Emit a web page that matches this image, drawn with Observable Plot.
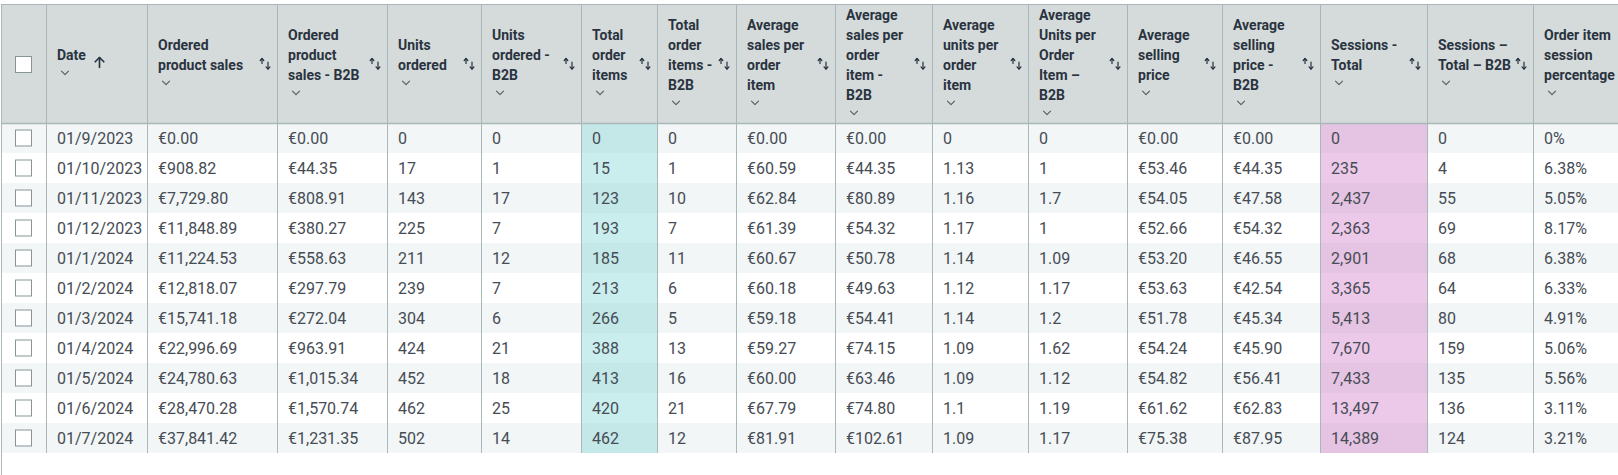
<!DOCTYPE html>
<html><head><meta charset="utf-8">
<script src="https://cdn.jsdelivr.net/npm/d3@7"></script>
<script src="https://cdn.jsdelivr.net/npm/@observablehq/plot@0.6"></script>
<style>html,body{margin:0;padding:0;background:#fff;} svg{display:block}</style>
</head><body><div id="chart"></div><script>
// ---------- data ----------
const dates = ["01/9/2023","01/10/2023","01/11/2023","01/12/2023","01/1/2024","01/2/2024","01/3/2024","01/4/2024","01/5/2024","01/6/2024","01/7/2024"];
const orderedProductSales = [0, 908.82, 7729.80, 11848.89, 11224.53, 12818.07, 15741.18, 22996.69, 24780.63, 28470.28, 37841.42];
const orderedProductSalesB2B = [0, 44.35, 808.91, 380.27, 558.63, 297.79, 272.04, 963.91, 1015.34, 1570.74, 1231.35];
const unitsOrdered = [0, 17, 143, 225, 211, 239, 304, 424, 452, 462, 502];
const unitsOrderedB2B = [0, 1, 17, 7, 12, 7, 6, 21, 18, 25, 14];
const totalOrderItems = [0, 15, 123, 193, 185, 213, 266, 388, 413, 420, 462];
const totalOrderItemsB2B = [0, 1, 10, 7, 11, 6, 5, 13, 16, 21, 12];
const avgSalesPerItem = [0, 60.59, 62.84, 61.39, 60.67, 60.18, 59.18, 59.27, 60.00, 67.79, 81.91];
const avgSalesPerItemB2B = [0, 44.35, 80.89, 54.32, 50.78, 49.63, 54.41, 74.15, 63.46, 74.80, 102.61];
const avgUnitsPerItem = [0, 1.13, 1.16, 1.17, 1.14, 1.12, 1.14, 1.09, 1.09, 1.1, 1.09];
const avgUnitsPerItemB2B = [0, 1, 1.7, 1, 1.09, 1.17, 1.2, 1.62, 1.12, 1.19, 1.17];
const avgSellingPrice = [0, 53.46, 54.05, 52.66, 53.20, 53.63, 51.78, 54.24, 54.82, 61.62, 75.38];
const avgSellingPriceB2B = [0, 44.35, 47.58, 54.32, 46.55, 42.54, 45.34, 45.90, 56.41, 62.83, 87.95];
const sessionsTotal = [0, 235, 2437, 2363, 2901, 3365, 5413, 7670, 7433, 13497, 14389];
const sessionsTotalB2B = [0, 4, 55, 69, 68, 64, 80, 159, 135, 136, 124];
const orderItemSessionPct = [0, 6.38, 5.05, 8.17, 6.38, 6.33, 4.91, 5.06, 5.56, 3.11, 3.21];

const headers = [
  [], ["Date"], ["Ordered","product sales"], ["Ordered","product","sales - B2B"],
  ["Units","ordered"], ["Units","ordered -","B2B"], ["Total","order","items"],
  ["Total","order","items -","B2B"], ["Average","sales per","order","item"],
  ["Average","sales per","order","item -","B2B"], ["Average","units per","order","item"],
  ["Average","Units per","Order","Item –","B2B"], ["Average","selling","price"],
  ["Average","selling","price -","B2B"], ["Sessions -","Total"], ["Sessions –","Total – B2B"],
  ["Order item","session","percentage"]
];

// ---------- formatting ----------
const euro = v => "€" + d3.format(",.2f")(v);
const int = v => d3.format(",")(v);
const plain = v => String(v);
const pct = v => v + "%";
const series = [orderedProductSales, orderedProductSalesB2B, unitsOrdered, unitsOrderedB2B,
  totalOrderItems, totalOrderItemsB2B, avgSalesPerItem, avgSalesPerItemB2B, avgUnitsPerItem,
  avgUnitsPerItemB2B, avgSellingPrice, avgSellingPriceB2B, sessionsTotal, sessionsTotalB2B, orderItemSessionPct];
const formats = [euro, euro, int, int, int, int, euro, euro, plain, plain, euro, euro, int, int, pct];

// ---------- layout ----------
const W = 1618, H = 475;
const edges = [1, 46, 147, 277, 387, 481, 581, 657, 736, 835, 932, 1028, 1127, 1222, 1320, 1427, 1533, 1618];
const headTop = 4, headBottom = 123, rowH = 30, pad = 10.5, headMid = 63.5, lineH = 20, chevGap = 17.7;
const tableBottom = headBottom + rowH * dates.length;
const rowMid = i => headBottom + rowH * i + rowH / 2;
const highlight = {6: ["#c3e8e7", "#caeeed"], 14: ["#e5c3e2", "#edc9e9"]};

// ---------- derived mark data ----------
const bgRects = [{x1: edges[0], x2: W, y1: headTop, y2: headBottom, fill: "#d5dbdb"}];
dates.forEach((d, i) => {
  bgRects.push({x1: edges[0], x2: W, y1: headBottom + i * rowH, y2: headBottom + (i + 1) * rowH, fill: i % 2 === 0 ? "#f2f6f7" : "#ffffff"});
  for (const c of Object.keys(highlight)) {
    bgRects.push({x1: edges[+c], x2: edges[+c + 1], y1: headBottom + i * rowH, y2: headBottom + (i + 1) * rowH, fill: highlight[c][i % 2]});
  }
});

const checkboxes = [{cy: headMid + 1}].concat(dates.map((d, i) => ({cy: rowMid(i)})));
const cbX = (edges[0] + edges[1]) / 2;
const cbRects = checkboxes.map(d => ({x1: cbX - 8, x2: cbX + 8, y1: d.cy - 8, y2: d.cy + 8}));

const cellTexts = [];
dates.forEach((d, i) => {
  cellTexts.push({x: edges[1] + pad, y: rowMid(i), text: d});
  series.forEach((s, k) => cellTexts.push({x: edges[k + 2] + pad, y: rowMid(i), text: formats[k](s[i])}));
});

const headTexts = [];
const paths = [];
let pid = 0;
headers.forEach((lines, c) => {
  const n = lines.length;
  if (!n) return;
  const first = headMid - ((n - 1) * lineH + chevGap) / 2;
  lines.forEach((t, k) => headTexts.push({x: edges[c] + pad, y: first + k * lineH, text: t}));
  const cy = first + (n - 1) * lineH + chevGap, cx = edges[c] + 18.5;
  pid++;
  [[cx - 3.5, cy - 1.8], [cx, cy + 1.8], [cx + 3.5, cy - 1.8]].forEach(p => paths.push({x: p[0], y: p[1], id: "c" + pid, w: 1.1, col: "#545b64"}));
  if (c >= 2 && c <= 15) {
    const ux = edges[c + 1] - 15.5, dx = edges[c + 1] - 9.5;
    pid++;
    [[ux, 63], [ux, 58]].forEach(p => paths.push({x: p[0], y: p[1], id: "u" + pid, w: 1.2, col: "#232f3e"}));
    [[ux - 1.8, 60], [ux, 58], [ux + 1.8, 60]].forEach(p => paths.push({x: p[0], y: p[1], id: "h" + pid, w: 1.2, col: "#232f3e"}));
    [[dx, 61.5], [dx, 68.5]].forEach(p => paths.push({x: p[0], y: p[1], id: "d" + pid, w: 1.2, col: "#232f3e"}));
    [[dx - 2, 66.4], [dx, 68.5], [dx + 2, 66.4]].forEach(p => paths.push({x: p[0], y: p[1], id: "e" + pid, w: 1.2, col: "#232f3e"}));
  }
});
// active ascending sort arrow beside "Date"
const ax = edges[1] + 53;
[[ax, 67], [ax, 57]].forEach(p => paths.push({x: p[0], y: p[1], id: "da", w: 1.6, col: "#232f3e"}));
[[ax - 4.3, 61.3], [ax, 57], [ax + 4.3, 61.3]].forEach(p => paths.push({x: p[0], y: p[1], id: "dh", w: 1.6, col: "#232f3e"}));

const colRules = edges.slice(1, 17);

const chart = Plot.plot({
  width: W, height: H,
  margin: 0,
  x: {domain: [0, W], range: [0, W], axis: null},
  y: {domain: [0, H], range: [0, H], axis: null},
  color: {type: "identity"},
  style: {fontFamily: "Roboto, 'Noto Sans', sans-serif", background: "#ffffff"},
  marks: [
    Plot.rect(bgRects, {x1: "x1", x2: "x2", y1: "y1", y2: "y2", fill: "fill"}),
    Plot.ruleX(colRules, {x: d => d, y1: () => headTop, y2: () => tableBottom, stroke: "#aab7b8", strokeWidth: 1}),
    Plot.ruleX([edges[0]], {x: d => d, y1: () => headTop, y2: () => H, stroke: "#aab7b8", strokeWidth: 1}),
    Plot.ruleY([headTop], {y: d => d, x1: () => edges[0], x2: () => W, stroke: "#aab7b8", strokeWidth: 1}),
    Plot.ruleY([headBottom], {y: d => d, x1: () => edges[0], x2: () => W, stroke: "#aab7b8", strokeWidth: 1.5}),
    Plot.rect(cbRects, {x1: "x1", x2: "x2", y1: "y1", y2: "y2", fill: "#ffffff", stroke: "#879596", strokeWidth: 1}),
    Plot.text(cellTexts, {x: "x", y: "y", text: "text", textAnchor: "start", lineAnchor: "middle", fontSize: 16, fill: "#464c54"}),
    Plot.text(headTexts, {x: "x", y: "y", text: "text", textAnchor: "start", lineAnchor: "middle", fontSize: 14, fontWeight: "bold", fill: "#2a3340"}),
    Plot.line(paths, {x: "x", y: "y", z: "id", stroke: "col", strokeWidth: "w", strokeLinecap: "round", strokeLinejoin: "round"})
  ]
});
document.getElementById("chart").appendChild(chart);
</script></body></html>
